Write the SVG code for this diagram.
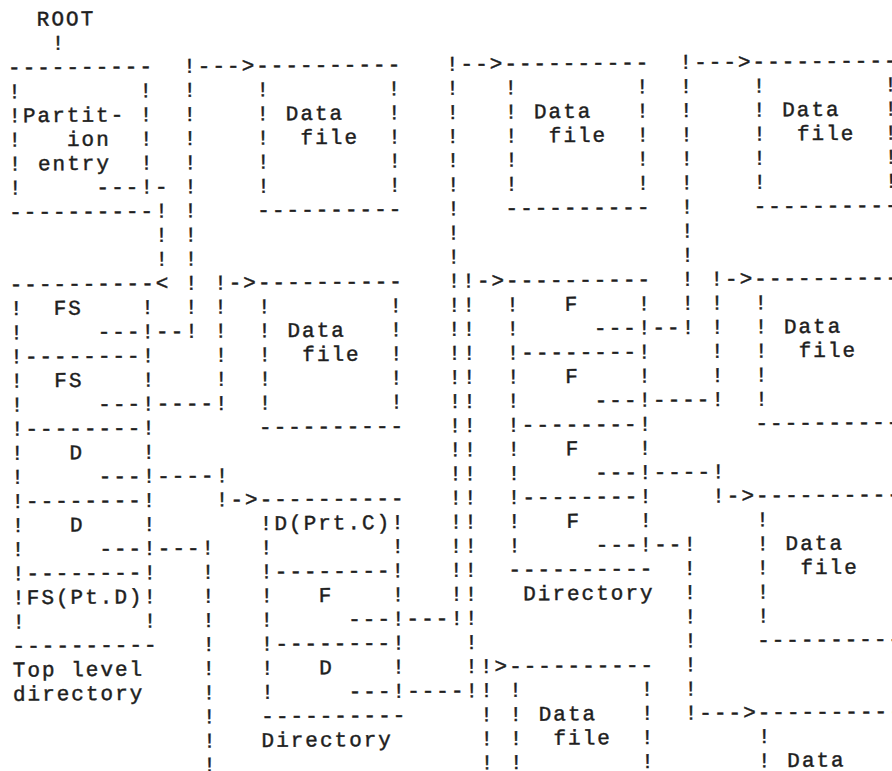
<svg xmlns="http://www.w3.org/2000/svg" width="892" height="771" viewBox="0 0 892 771">
<style>
text{font-family:"Liberation Mono","DejaVu Sans Mono",monospace;font-size:21px;letter-spacing:2px;fill:#1e1e1e;stroke:#1e1e1e;stroke-width:0.45px}
</style>
<rect width="892" height="771" fill="#ffffff"/>
<g transform="rotate(-0.45 446 385) translate(10.5 22.5)">
<g id="root-label"><text x="29.2" y="0">ROOT</text></g>
<g id="partition-entry">
<text x="0" y="48.2">----------</text>
<text><tspan x="0" y="72.3">!</tspan><tspan x="0" y="96.4">!</tspan><tspan x="0" y="120.5">!</tspan><tspan x="0" y="144.6">!</tspan><tspan x="0" y="168.7">!</tspan></text>
<text><tspan x="131.4" y="72.3">!</tspan><tspan x="131.4" y="96.4">!</tspan><tspan x="131.4" y="120.5">!</tspan><tspan x="131.4" y="144.6">!</tspan><tspan x="131.4" y="168.7">!</tspan></text>
<text x="14.6" y="96.4">Partit-</text>
<text x="58.4" y="120.5">ion</text>
<text x="29.2" y="144.6">entry</text>
<text x="0" y="192.8">----------</text>
</g>
<g id="top-level-directory">
<text x="0" y="265.1">----------</text>
<text><tspan x="0" y="289.2">!</tspan><tspan x="0" y="313.3">!</tspan><tspan x="0" y="337.4">!</tspan><tspan x="0" y="361.5">!</tspan><tspan x="0" y="385.6">!</tspan><tspan x="0" y="409.7">!</tspan><tspan x="0" y="433.8">!</tspan><tspan x="0" y="457.9">!</tspan><tspan x="0" y="482">!</tspan><tspan x="0" y="506.1">!</tspan><tspan x="0" y="530.2">!</tspan><tspan x="0" y="554.3">!</tspan><tspan x="0" y="578.4">!</tspan><tspan x="0" y="602.5">!</tspan></text>
<text><tspan x="131.4" y="289.2">!</tspan><tspan x="131.4" y="313.3">!</tspan><tspan x="131.4" y="337.4">!</tspan><tspan x="131.4" y="361.5">!</tspan><tspan x="131.4" y="385.6">!</tspan><tspan x="131.4" y="409.7">!</tspan><tspan x="131.4" y="433.8">!</tspan><tspan x="131.4" y="457.9">!</tspan><tspan x="131.4" y="482">!</tspan><tspan x="131.4" y="506.1">!</tspan><tspan x="131.4" y="530.2">!</tspan><tspan x="131.4" y="554.3">!</tspan><tspan x="131.4" y="578.4">!</tspan><tspan x="131.4" y="602.5">!</tspan></text>
<text x="43.8" y="289.2">FS</text>
<text x="14.6" y="337.4">--------</text>
<text x="43.8" y="361.5">FS</text>
<text x="14.6" y="409.7">--------</text>
<text x="58.4" y="433.8">D</text>
<text x="14.6" y="482">--------</text>
<text x="58.4" y="506.1">D</text>
<text x="14.6" y="554.3">--------</text>
<text x="14.6" y="578.4">FS(Pt.D)</text>
<text x="0" y="626.6">----------</text>
<text x="0" y="650.7">Top level</text>
<text x="0" y="674.8">directory</text>
</g>
<g id="data-file-a">
<text x="248.2" y="48.2">----------</text>
<text><tspan x="248.2" y="72.3">!</tspan><tspan x="248.2" y="96.4">!</tspan><tspan x="248.2" y="120.5">!</tspan><tspan x="248.2" y="144.6">!</tspan><tspan x="248.2" y="168.7">!</tspan></text>
<text><tspan x="379.6" y="72.3">!</tspan><tspan x="379.6" y="96.4">!</tspan><tspan x="379.6" y="120.5">!</tspan><tspan x="379.6" y="144.6">!</tspan><tspan x="379.6" y="168.7">!</tspan></text>
<text x="277.4" y="96.4">Data</text>
<text x="292" y="120.5">file</text>
<text x="248.2" y="192.8">----------</text>
</g>
<g id="data-file-b">
<text x="496.4" y="48.2">----------</text>
<text><tspan x="496.4" y="72.3">!</tspan><tspan x="496.4" y="96.4">!</tspan><tspan x="496.4" y="120.5">!</tspan><tspan x="496.4" y="144.6">!</tspan><tspan x="496.4" y="168.7">!</tspan></text>
<text><tspan x="627.8" y="72.3">!</tspan><tspan x="627.8" y="96.4">!</tspan><tspan x="627.8" y="120.5">!</tspan><tspan x="627.8" y="144.6">!</tspan><tspan x="627.8" y="168.7">!</tspan></text>
<text x="525.6" y="96.4">Data</text>
<text x="540.2" y="120.5">file</text>
<text x="496.4" y="192.8">----------</text>
</g>
<g id="data-file-c">
<text x="744.6" y="48.2">----------</text>
<text><tspan x="744.6" y="72.3">!</tspan><tspan x="744.6" y="96.4">!</tspan><tspan x="744.6" y="120.5">!</tspan><tspan x="744.6" y="144.6">!</tspan><tspan x="744.6" y="168.7">!</tspan></text>
<text><tspan x="876" y="72.3">!</tspan><tspan x="876" y="96.4">!</tspan><tspan x="876" y="120.5">!</tspan><tspan x="876" y="144.6">!</tspan><tspan x="876" y="168.7">!</tspan></text>
<text x="773.8" y="96.4">Data</text>
<text x="788.4" y="120.5">file</text>
<text x="744.6" y="192.8">----------</text>
</g>
<g id="data-file-d">
<text x="248.2" y="265.1">----------</text>
<text><tspan x="248.2" y="289.2">!</tspan><tspan x="248.2" y="313.3">!</tspan><tspan x="248.2" y="337.4">!</tspan><tspan x="248.2" y="361.5">!</tspan><tspan x="248.2" y="385.6">!</tspan></text>
<text><tspan x="379.6" y="289.2">!</tspan><tspan x="379.6" y="313.3">!</tspan><tspan x="379.6" y="337.4">!</tspan><tspan x="379.6" y="361.5">!</tspan><tspan x="379.6" y="385.6">!</tspan></text>
<text x="277.4" y="313.3">Data</text>
<text x="292" y="337.4">file</text>
<text x="248.2" y="409.7">----------</text>
</g>
<g id="directory-f">
<text x="496.4" y="265.1">----------</text>
<text><tspan x="496.4" y="289.2">!</tspan><tspan x="496.4" y="313.3">!</tspan><tspan x="496.4" y="337.4">!</tspan><tspan x="496.4" y="361.5">!</tspan><tspan x="496.4" y="385.6">!</tspan><tspan x="496.4" y="409.7">!</tspan><tspan x="496.4" y="433.8">!</tspan><tspan x="496.4" y="457.9">!</tspan><tspan x="496.4" y="482">!</tspan><tspan x="496.4" y="506.1">!</tspan><tspan x="496.4" y="530.2">!</tspan></text>
<text><tspan x="627.8" y="289.2">!</tspan><tspan x="627.8" y="313.3">!</tspan><tspan x="627.8" y="337.4">!</tspan><tspan x="627.8" y="361.5">!</tspan><tspan x="627.8" y="385.6">!</tspan><tspan x="627.8" y="409.7">!</tspan><tspan x="627.8" y="433.8">!</tspan><tspan x="627.8" y="457.9">!</tspan><tspan x="627.8" y="482">!</tspan><tspan x="627.8" y="506.1">!</tspan><tspan x="627.8" y="530.2">!</tspan></text>
<text x="554.8" y="289.2">F</text>
<text x="511" y="337.4">--------</text>
<text x="554.8" y="361.5">F</text>
<text x="511" y="409.7">--------</text>
<text x="554.8" y="433.8">F</text>
<text x="511" y="482">--------</text>
<text x="554.8" y="506.1">F</text>
<text x="496.4" y="554.3">----------</text>
<text x="511" y="578.4">Directory</text>
</g>
<g id="data-file-e">
<text x="744.6" y="265.1">----------</text>
<text><tspan x="744.6" y="289.2">!</tspan><tspan x="744.6" y="313.3">!</tspan><tspan x="744.6" y="337.4">!</tspan><tspan x="744.6" y="361.5">!</tspan><tspan x="744.6" y="385.6">!</tspan></text>
<text x="773.8" y="313.3">Data</text>
<text x="788.4" y="337.4">file</text>
<text x="744.6" y="409.7">----------</text>
</g>
<g id="directory-prt-c">
<text x="248.2" y="482">----------</text>
<text><tspan x="248.2" y="506.1">!</tspan><tspan x="248.2" y="530.2">!</tspan><tspan x="248.2" y="554.3">!</tspan><tspan x="248.2" y="578.4">!</tspan><tspan x="248.2" y="602.5">!</tspan><tspan x="248.2" y="626.6">!</tspan><tspan x="248.2" y="650.7">!</tspan><tspan x="248.2" y="674.8">!</tspan></text>
<text><tspan x="379.6" y="506.1">!</tspan><tspan x="379.6" y="530.2">!</tspan><tspan x="379.6" y="554.3">!</tspan><tspan x="379.6" y="578.4">!</tspan><tspan x="379.6" y="602.5">!</tspan><tspan x="379.6" y="626.6">!</tspan><tspan x="379.6" y="650.7">!</tspan><tspan x="379.6" y="674.8">!</tspan></text>
<text x="262.8" y="506.1">D(Prt.C)</text>
<text x="262.8" y="554.3">--------</text>
<text x="306.6" y="578.4">F</text>
<text x="262.8" y="626.6">--------</text>
<text x="306.6" y="650.7">D</text>
<text x="248.2" y="698.9">----------</text>
<text x="248.2" y="723">Directory</text>
</g>
<g id="data-file-g">
<text x="744.6" y="482">----------</text>
<text><tspan x="744.6" y="506.1">!</tspan><tspan x="744.6" y="530.2">!</tspan><tspan x="744.6" y="554.3">!</tspan><tspan x="744.6" y="578.4">!</tspan><tspan x="744.6" y="602.5">!</tspan></text>
<text x="773.8" y="530.2">Data</text>
<text x="788.4" y="554.3">file</text>
<text x="744.6" y="626.6">----------</text>
</g>
<g id="data-file-h">
<text x="496.4" y="650.7">----------</text>
<text><tspan x="496.4" y="674.8">!</tspan><tspan x="496.4" y="698.9">!</tspan><tspan x="496.4" y="723">!</tspan><tspan x="496.4" y="747.1">!</tspan></text>
<text><tspan x="627.8" y="674.8">!</tspan><tspan x="627.8" y="698.9">!</tspan><tspan x="627.8" y="723">!</tspan><tspan x="627.8" y="747.1">!</tspan></text>
<text x="525.6" y="698.9">Data</text>
<text x="540.2" y="723">file</text>
</g>
<g id="data-file-i">
<text x="744.6" y="698.9">----------</text>
<text><tspan x="744.6" y="723">!</tspan><tspan x="744.6" y="747.1">!</tspan></text>
<text x="773.8" y="747.1">Data</text>
</g>
<g id="connectors">
<g id="c-root"><text x="43.8" y="24.1">!</text></g>
<g id="c-partition">
<text x="87.6" y="168.7">---</text>
<text><tspan x="146" y="168.7">-</tspan><tspan x="146" y="192.8">!</tspan><tspan x="146" y="216.9">!</tspan><tspan x="146" y="241">!</tspan><tspan x="146" y="265.1">&lt;</tspan></text>
</g>
<g id="c-fs1">
<text><tspan x="175.2" y="48.2">!</tspan><tspan x="175.2" y="72.3">!</tspan><tspan x="175.2" y="96.4">!</tspan><tspan x="175.2" y="120.5">!</tspan><tspan x="175.2" y="144.6">!</tspan><tspan x="175.2" y="168.7">!</tspan><tspan x="175.2" y="192.8">!</tspan><tspan x="175.2" y="216.9">!</tspan><tspan x="175.2" y="241">!</tspan><tspan x="175.2" y="265.1">!</tspan><tspan x="175.2" y="289.2">!</tspan><tspan x="175.2" y="313.3">!</tspan></text>
<text x="189.8" y="48.2">---&gt;</text>
<text x="87.6" y="313.3">---</text>
<text x="146" y="313.3">--</text>
</g>
<g id="c-fs2">
<text><tspan x="204.4" y="265.1">!</tspan><tspan x="204.4" y="289.2">!</tspan><tspan x="204.4" y="313.3">!</tspan><tspan x="204.4" y="337.4">!</tspan><tspan x="204.4" y="361.5">!</tspan><tspan x="204.4" y="385.6">!</tspan></text>
<text x="219" y="265.1">-&gt;</text>
<text x="87.6" y="385.6">---</text>
<text x="146" y="385.6">----</text>
</g>
<g id="c-d1">
<text><tspan x="204.4" y="457.9">!</tspan><tspan x="204.4" y="482">!</tspan></text>
<text x="219" y="482">-&gt;</text>
<text x="87.6" y="457.9">---</text>
<text x="146" y="457.9">----</text>
</g>
<g id="c-d2">
<text><tspan x="189.8" y="530.2">!</tspan><tspan x="189.8" y="554.3">!</tspan><tspan x="189.8" y="578.4">!</tspan><tspan x="189.8" y="602.5">!</tspan><tspan x="189.8" y="626.6">!</tspan><tspan x="189.8" y="650.7">!</tspan><tspan x="189.8" y="674.8">!</tspan><tspan x="189.8" y="698.9">!</tspan><tspan x="189.8" y="723">!</tspan><tspan x="189.8" y="747.1">!</tspan></text>
<text x="87.6" y="530.2">---</text>
<text x="146" y="530.2">---</text>
</g>
<g id="c-prtc-f">
<text><tspan x="438" y="48.2">!</tspan><tspan x="438" y="72.3">!</tspan><tspan x="438" y="96.4">!</tspan><tspan x="438" y="120.5">!</tspan><tspan x="438" y="144.6">!</tspan><tspan x="438" y="168.7">!</tspan><tspan x="438" y="192.8">!</tspan><tspan x="438" y="216.9">!</tspan><tspan x="438" y="241">!</tspan><tspan x="438" y="265.1">!</tspan><tspan x="438" y="289.2">!</tspan><tspan x="438" y="313.3">!</tspan><tspan x="438" y="337.4">!</tspan><tspan x="438" y="361.5">!</tspan><tspan x="438" y="385.6">!</tspan><tspan x="438" y="409.7">!</tspan><tspan x="438" y="433.8">!</tspan><tspan x="438" y="457.9">!</tspan><tspan x="438" y="482">!</tspan><tspan x="438" y="506.1">!</tspan><tspan x="438" y="530.2">!</tspan><tspan x="438" y="554.3">!</tspan><tspan x="438" y="578.4">!</tspan><tspan x="438" y="602.5">!</tspan></text>
<text x="452.6" y="48.2">--&gt;</text>
<text x="335.8" y="602.5">---</text>
<text x="394.2" y="602.5">---</text>
</g>
<g id="c-prtc-d">
<text><tspan x="452.6" y="265.1">!</tspan><tspan x="452.6" y="289.2">!</tspan><tspan x="452.6" y="313.3">!</tspan><tspan x="452.6" y="337.4">!</tspan><tspan x="452.6" y="361.5">!</tspan><tspan x="452.6" y="385.6">!</tspan><tspan x="452.6" y="409.7">!</tspan><tspan x="452.6" y="433.8">!</tspan><tspan x="452.6" y="457.9">!</tspan><tspan x="452.6" y="482">!</tspan><tspan x="452.6" y="506.1">!</tspan><tspan x="452.6" y="530.2">!</tspan><tspan x="452.6" y="554.3">!</tspan><tspan x="452.6" y="578.4">!</tspan><tspan x="452.6" y="602.5">!</tspan><tspan x="452.6" y="626.6">!</tspan><tspan x="452.6" y="650.7">!</tspan><tspan x="452.6" y="674.8">!</tspan></text>
<text x="467.2" y="265.1">-&gt;</text>
<text x="335.8" y="674.8">---</text>
<text x="394.2" y="674.8">----</text>
</g>
<g id="c-below-h">
<text><tspan x="467.2" y="650.7">!</tspan><tspan x="467.2" y="674.8">!</tspan><tspan x="467.2" y="698.9">!</tspan><tspan x="467.2" y="723">!</tspan><tspan x="467.2" y="747.1">!</tspan></text>
<text x="481.8" y="650.7">&gt;</text>
</g>
<g id="c-f1">
<text><tspan x="671.6" y="48.2">!</tspan><tspan x="671.6" y="72.3">!</tspan><tspan x="671.6" y="96.4">!</tspan><tspan x="671.6" y="120.5">!</tspan><tspan x="671.6" y="144.6">!</tspan><tspan x="671.6" y="168.7">!</tspan><tspan x="671.6" y="192.8">!</tspan><tspan x="671.6" y="216.9">!</tspan><tspan x="671.6" y="241">!</tspan><tspan x="671.6" y="265.1">!</tspan><tspan x="671.6" y="289.2">!</tspan><tspan x="671.6" y="313.3">!</tspan></text>
<text x="686.2" y="48.2">---&gt;</text>
<text x="584" y="313.3">---</text>
<text x="642.4" y="313.3">--</text>
</g>
<g id="c-f2">
<text><tspan x="700.8" y="265.1">!</tspan><tspan x="700.8" y="289.2">!</tspan><tspan x="700.8" y="313.3">!</tspan><tspan x="700.8" y="337.4">!</tspan><tspan x="700.8" y="361.5">!</tspan><tspan x="700.8" y="385.6">!</tspan></text>
<text x="715.4" y="265.1">-&gt;</text>
<text x="584" y="385.6">---</text>
<text x="642.4" y="385.6">----</text>
</g>
<g id="c-f3">
<text><tspan x="700.8" y="457.9">!</tspan><tspan x="700.8" y="482">!</tspan></text>
<text x="715.4" y="482">-&gt;</text>
<text x="584" y="457.9">---</text>
<text x="642.4" y="457.9">----</text>
</g>
<g id="c-f4">
<text><tspan x="671.6" y="530.2">!</tspan><tspan x="671.6" y="554.3">!</tspan><tspan x="671.6" y="578.4">!</tspan><tspan x="671.6" y="602.5">!</tspan><tspan x="671.6" y="626.6">!</tspan><tspan x="671.6" y="650.7">!</tspan><tspan x="671.6" y="674.8">!</tspan><tspan x="671.6" y="698.9">!</tspan></text>
<text x="686.2" y="698.9">---&gt;</text>
<text x="584" y="530.2">---</text>
<text x="642.4" y="530.2">--</text>
</g>
</g>
</g>
</svg>
